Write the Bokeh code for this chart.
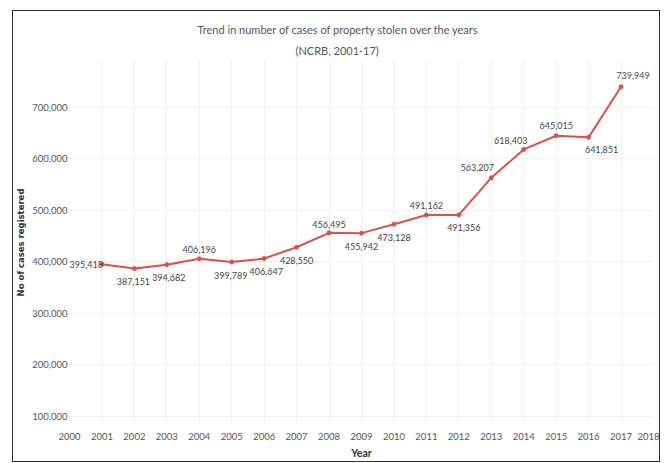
from bokeh.plotting import figure
from bokeh.models import ColumnDataSource, FixedTicker, Range1d, NumeralTickFormatter, Title, LabelSet
from bokeh.core.properties import value
from bokeh.embed import file_html
from bokeh.resources import INLINE

years = [2001, 2002, 2003, 2004, 2005, 2006, 2007, 2008, 2009, 2010, 2011, 2012, 2013, 2014, 2015, 2016, 2017]
cases = [395418, 387151, 394682, 406196, 399789, 406647, 428550, 456495, 455942, 473128, 491162, 491356,
         563207, 618403, 645015, 641851, 739949]
labels = ["395,418", "387,151", "394,682", "406,196", "399,789", "406,647", "428,550", "456,495", "455,942",
          "473,128", "491,162", "491,356", "563,207", "618,403", "645,015", "641,851", "739,949"]
x_ticks = list(range(2000, 2019))
y_ticks = [100000, 200000, 300000, 400000, 500000, 600000, 700000]
title_lines = ["Trend in number of cases of property stolen over the years", "(NCRB, 2001-17)"]

# label placement (layout only): screen px, positive dy = downwards
lab_align = ["right"] + ["center"] * 16
lab_dx = [1, -1, 2, 0, -1, 2, 0, 0, 0, 0, 0, 5, -14, -13, 0, 13, 12]
lab_dy = [0, 13, 13, -9, 13, 13, 13, -8, 13, 13, -9, 13, -10, -9, -10, 12, -11]

FONT = "Lato"
W, H = 648, 452

src = ColumnDataSource(dict(x=years, y=cases, t=labels, al=lab_align, dx=lab_dx,
                            dy=[-d for d in lab_dy]))

p = figure(width=W, height=H, output_backend="svg", toolbar_location=None,
           x_range=Range1d(2000, 2018), y_range=Range1d(84500, 791000),
           min_border_left=56, min_border_right=8, min_border_top=49, min_border_bottom=39)
p.styles = {"border": "1.5px solid #333", "margin-left": "12px", "margin-top": "10px"}

p.title = Title(text=title_lines[0], align="left", offset=128, text_font=FONT, text_font_size="11px",
                text_color="#555555", text_font_style="normal", standoff=4)
p.add_layout(Title(text=title_lines[1], align="left", offset=226, text_font=FONT, text_font_size="11px",
                   text_color="#555555", text_font_style="normal", standoff=8), "above")

p.line("x", "y", source=src, line_color="#d8514b", line_width=2)
p.scatter("x", "y", source=src, size=4, color="#d8514b")
p.add_layout(LabelSet(x="x", y="y", text="t", source=src, text_align="al", x_offset="dx", y_offset="dy",
                      text_baseline="middle", text_font=value(FONT), text_font_size="9px",
                      text_color="#444444"))

p.outline_line_color = None
p.xgrid.ticker = FixedTicker(ticks=x_ticks)
p.ygrid.ticker = FixedTicker(ticks=y_ticks)
p.xgrid.grid_line_color = "#efefef"
p.ygrid.grid_line_color = "#efefef"

p.xaxis.ticker = FixedTicker(ticks=x_ticks)
p.yaxis.ticker = FixedTicker(ticks=y_ticks)
p.yaxis.formatter = NumeralTickFormatter(format="0,0")
for ax in (p.xaxis[0], p.yaxis[0]):
    ax.axis_line_color = None
    ax.major_tick_line_color = None
    ax.minor_tick_line_color = None
    ax.major_tick_out = 0
    ax.major_tick_in = 0
    ax.minor_tick_out = 0
    ax.minor_tick_in = 0
    ax.major_label_text_font = FONT
    ax.major_label_text_font_size = "9.5px"
    ax.major_label_text_color = "#555555"
    ax.axis_label_text_font = "DejaVu Sans"
    ax.axis_label_text_font_style = "bold"
    ax.axis_label_text_font_size = "8.5px"
    ax.axis_label_text_color = "#333333"
p.xaxis.axis_label = "Year"
p.xaxis.axis_label_text_font = FONT
p.xaxis.axis_label_text_font_size = "10.5px"
p.yaxis.axis_label = "No of cases registered"
p.xaxis.major_label_standoff = 8
p.xaxis.axis_label_standoff = 4
p.yaxis.major_label_standoff = 2
p.yaxis.axis_label_standoff = 3

p.background_fill_color = "white"
p.border_fill_color = "white"

open("out.html", "w").write(file_html(p, INLINE))
